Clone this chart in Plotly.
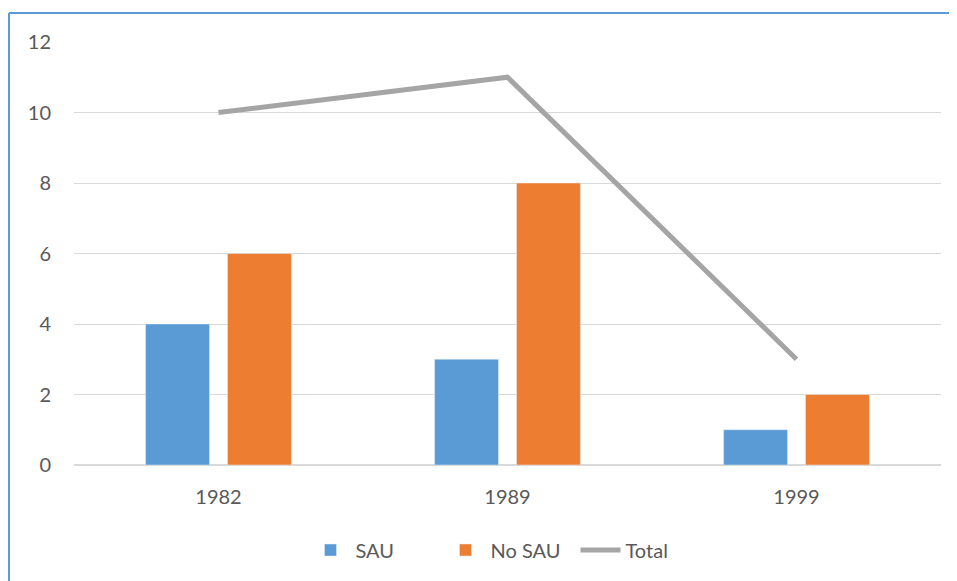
import plotly.graph_objects as go

categories = ["1982", "1989", "1999"]
sau = [4, 3, 1]
no_sau = [6, 8, 2]
total = [10, 11, 3]
y_ticks = [0, 2, 4, 6, 8, 10, 12]

# page has an 8px body margin; figure placed at (8, 8)
OFF = 8
PW, PH = 957, 581
W, H = PW - OFF, PH - OFF
L, R, T, B = 74 - OFF, 16, 42 - OFF, 116
pw, ph = W - L - R, H - T - B

def px_x(x):
    return (x - OFF - L) / pw

def px_y(y):
    return (H - B - (y - OFF)) / ph

font = dict(family="Lato, 'Open Sans', sans-serif", size=20, color="#595959")

fig = go.Figure()
fig.add_trace(go.Bar(name="SAU", x=categories, y=sau, marker_color="#5B9BD5"))
fig.add_trace(go.Bar(name="No SAU", x=categories, y=no_sau, marker_color="#ED7D31"))
fig.add_trace(go.Scatter(name="Total", x=categories, y=total, mode="lines",
                         line=dict(color="#A5A5A5", width=5)))

fig.update_layout(
    width=W, height=H,
    margin=dict(l=L, r=R, t=T, b=B),
    paper_bgcolor="white", plot_bgcolor="white",
    barmode="group", bargap=0.433, bargroupgap=0.22,
    font=font,
    showlegend=True,
    legend=dict(orientation="h", x=px_x(508), xanchor="center", y=px_y(550), yanchor="middle",
                font=font, itemwidth=40, entrywidth=80, traceorder="normal"),
    xaxis=dict(showgrid=False, showline=False, ticks="", tickfont=font, ticklabelstandoff=18),
    yaxis=dict(range=[0, 12], tickvals=y_ticks, showgrid=True, gridcolor="#D9D9D9", gridwidth=1,
               zeroline=True, zerolinecolor="#D9D9D9", zerolinewidth=1.5,
               showline=False, ticks="", tickfont=font, ticklabelstandoff=22),
    shapes=[
        dict(type="line", xref="paper", yref="paper", x0=px_x(9), x1=px_x(9), y0=px_y(13), y1=px_y(PH + 5),
             line=dict(color="#5B9BD5", width=2)),
        dict(type="line", xref="paper", yref="paper", x0=px_x(9), x1=px_x(PW + 5), y0=px_y(13), y1=px_y(13),
             line=dict(color="#5B9BD5", width=2)),
    ],
)

fig.write_html("out.html")
